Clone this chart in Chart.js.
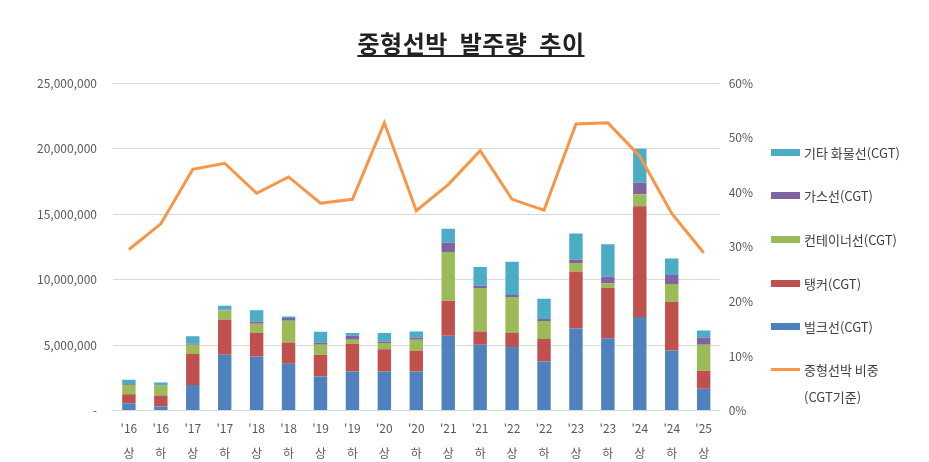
<!DOCTYPE html>
<html>
<head>
<meta charset="utf-8">
<script src="https://cdn.jsdelivr.net/npm/chart.js@4.4.1/dist/chart.umd.min.js"></script>
<style>
  body { margin: 0; background: #fff; font-family: "Noto Sans CJK KR", sans-serif; }
  #wrap { position: relative; width: 929px; height: 462px; overflow: hidden; }
  #title {
    position: absolute; left: 0; width: 942px; top: 27px; text-align: center;
    font-size: 24px; font-weight: bold; color: #222; text-decoration: underline; letter-spacing: 0.5px;
    text-decoration-thickness: 2px; text-underline-offset: 2px; white-space: pre; line-height: 32px;
  }
  #legend { position: absolute; left: 771px; top: 0; font-size: 13px; color: #404040; }
  .item { position: absolute; left: 0; white-space: nowrap; }
  .swatch { position: absolute; left: 0; width: 29px; }
  .label { position: absolute; left: 33px; line-height: 27px; }
</style>
</head>
<body>
<div id="wrap">
  <canvas id="myChart" width="929" height="462"></canvas>
  <div id="title">중형선박  발주량  추이</div>
  <div id="legend"></div>
</div>
<script>
var periods = [["'16","상"],["'16","하"],["'17","상"],["'17","하"],["'18","상"],["'18","하"],
  ["'19","상"],["'19","하"],["'20","상"],["'20","하"],["'21","상"],["'21","하"],
  ["'22","상"],["'22","하"],["'23","상"],["'23","하"],["'24","상"],["'24","하"],["'25","상"]];

// CGT
var bulk = [560000, 310000, 1960000, 4260000, 4130000, 3570000, 2600000, 2980000, 2980000, 2980000,
  5710000, 5020000, 4850000, 3750000, 6270000, 5530000, 7140000, 4590000, 1660000];
var tanker = [690000, 840000, 2350000, 2670000, 1790000, 1630000, 1660000, 2120000, 1710000, 1580000,
  2680000, 1020000, 1070000, 1710000, 4330000, 3850000, 8460000, 3700000, 1380000];
var container = [710000, 740000, 710000, 720000, 710000, 1660000, 760000, 300000, 460000, 840000,
  3720000, 3320000, 2750000, 1370000, 670000, 310000, 910000, 1370000, 1980000];
var gas = [50000, 30000, 100000, 50000, 170000, 200000, 180000, 310000, 130000, 180000,
  690000, 170000, 150000, 160000, 250000, 550000, 870000, 690000, 560000];
var other = [340000, 220000, 550000, 300000, 850000, 130000, 820000, 210000, 640000, 460000,
  1070000, 1430000, 2530000, 1550000, 1990000, 2450000, 2600000, 1250000, 540000];

// %
var share = [29.5, 34.2, 44.2, 45.3, 39.8, 42.8, 38.0, 38.7, 52.7, 36.6,
  41.4, 47.6, 38.7, 36.7, 52.5, 52.7, 46.6, 36.1, 28.9];

var tickFont = { family: "Noto Sans CJK KR", size: 12 };
var tickColor = '#595959';

var myChartObject = document.getElementById('myChart');

var chart = new Chart(myChartObject, {
  data: {
    labels: periods,
    datasets: [
      { type: 'line', label: ["중형선박 비중", "(CGT기준)"], data: share, yAxisID: 'y1',
        borderColor: '#F79646', backgroundColor: '#F79646', borderWidth: 3,
        pointRadius: 0, tension: 0, order: 0 },
      { type: 'bar', label: "벌크선(CGT)", data: bulk, backgroundColor: '#4F81BD', order: 1 },
      { type: 'bar', label: "탱커(CGT)", data: tanker, backgroundColor: '#C0504D', order: 1 },
      { type: 'bar', label: "컨테이너선(CGT)", data: container, backgroundColor: '#9BBB59', order: 1 },
      { type: 'bar', label: "가스선(CGT)", data: gas, backgroundColor: '#8064A2', order: 1 },
      { type: 'bar', label: "기타 화물선(CGT)", data: other, backgroundColor: '#4BACC6', order: 1 }
    ]
  },
  options: {
    responsive: false,
    animation: false,
    layout: { padding: { left: 21, right: 167, top: 83, bottom: -9 } },
    datasets: { bar: { categoryPercentage: 1, barPercentage: 0.42 } },
    plugins: { legend: { display: false }, tooltip: { enabled: false } },
    scales: {
      x: {
        stacked: true,
        grid: { display: false, drawTicks: false, tickLength: 0 },
        border: { color: '#d9d9d9' },
        ticks: { font: { family: "Noto Sans CJK KR", size: 12, lineHeight: 2.1 }, color: tickColor,
          padding: 5, maxRotation: 0, autoSkip: false }
      },
      y: {
        stacked: true, min: 0, max: 25000000,
        grid: { color: '#d9d9d9', drawTicks: false },
        border: { display: false },
        ticks: { stepSize: 5000000, font: tickFont, color: tickColor, padding: 16,
          callback: function (v) { return v === 0 ? '-' : v.toLocaleString('en-US'); } }
      },
      y1: {
        position: 'right', min: 0, max: 60,
        grid: { display: false, drawTicks: false },
        border: { display: false },
        ticks: { stepSize: 10, font: tickFont, color: tickColor, padding: 9,
          callback: function (v) { return v + '%'; } }
      }
    }
  }
});

// legend built from the chart datasets
function buildLegend() {
  var legend = document.getElementById('legend');
  var rows = [5, 4, 3, 2, 1, 0];
  var tops = [152, 195, 239, 283, 326, 369];
  rows.forEach(function (idx, i) {
    var ds = chart.data.datasets[idx];
    var item = document.createElement('div');
    item.className = 'item';
    item.style.top = tops[i] + 'px';
    var sw = document.createElement('div');
    sw.className = 'swatch';
    var h = ds.type === 'line' ? 3 : 7;
    sw.style.height = h + 'px';
    sw.style.top = (-h / 2) + 'px';
    sw.style.background = ds.backgroundColor;
    var lb = document.createElement('div');
    lb.className = 'label';
    lb.style.top = '-13.5px';
    lb.innerHTML = [].concat(ds.label).join('<br>');
    item.appendChild(sw);
    item.appendChild(lb);
    legend.appendChild(item);
  });
}
buildLegend();
</script>
</body>
</html>
